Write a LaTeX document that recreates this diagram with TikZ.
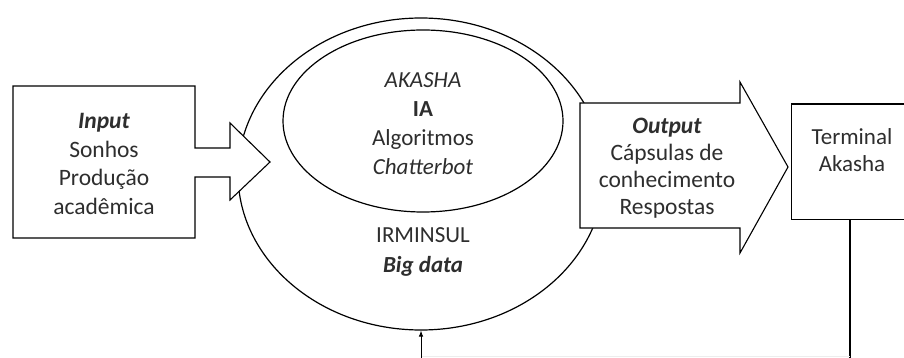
\documentclass[tikz,border=0pt]{standalone}
\usepackage{fontspec}
\setmainfont{Carlito}
\usetikzlibrary{shapes.geometric,arrows.meta}
\tikzset{
  x=1pt,y=1pt,
  shapeline/.style={draw=black, line width=1.1pt, fill=white, line join=miter},
  txt/.style={text=black!82, align=center, inner sep=0pt, font=\fontsize{23.5}{28.5}\selectfont},
  ring/.style={draw=black, line width=1.2pt, ellipse, inner sep=0pt},
}
\begin{document}
\begin{tikzpicture}
\clip (0,0) rectangle (904,-358);
\fill[white] (0,0) rectangle (904,-358);
% big ellipse
\node[ring, minimum width=366, minimum height=312] (irminsul) at (421,-174) {};
\node[ring, minimum width=280, minimum height=182] (akasha) at (423,-121) {};
% input arrow
\draw[shapeline] (13,-86) coordinate (inA) -- (195,-86) -- (195,-148) -- (230,-148) -- (230,-123) -- (270,-162) coordinate (inTip) -- (230,-200) -- (230,-177) -- (195,-177) -- (195,-238) -- (13,-238) -- cycle;
% output arrow
\draw[shapeline] (580,-103) -- (740,-103) -- (740,-82) -- (788,-167) coordinate (outTip) -- (740,-253) -- (740,-228) -- (580,-228) -- cycle;
% terminal box
\node[draw=black, line width=0.9pt, fill=white, minimum width=130, minimum height=115, inner sep=0pt, anchor=north west] (term) at (791,-104) {};
\draw[line width=2pt] (term.north west) -- (term.north east);
% texts
\node[txt] (inputtxt) at (104,-164) {\textbf{\textit{Input}}\\Sonhos\\Produção\\acadêmica};
\node[txt, font=\fontsize{23}{29}\selectfont] (akashatxt) at (423,-124) {\textit{AKASHA}\\\textbf{IA}\\Algoritmos\\\textit{Chatterbot}};
\node[txt, font=\fontsize{23}{30}\selectfont] (irmtxt) at (423,-252) {IRMINSUL\\\textbf{\textit{Big data}}};
\node[txt, font=\fontsize{23.5}{27}\selectfont] (outtxt) at (667,-168) {\textbf{\textit{Output}}\\Cápsulas de\\conhecimento\\Respostas};
\node[txt, font=\fontsize{23}{27}\selectfont] (termtxt) at (852,-150) {Terminal\\Akasha};
% feedback connector
\coordinate (c1) at (850,-356.5);
\coordinate (c2) at (421,-356.5);
\draw[line width=2pt] (term.south -| c1) -- (850,-360);
\draw[black!7, line width=0.8pt] (c1) -- (c2);
\draw[line width=0.8pt, -{Latex[length=6pt,width=4.5pt]}] (421,-360) -- (irminsul.south);
\end{tikzpicture}
\end{document}
